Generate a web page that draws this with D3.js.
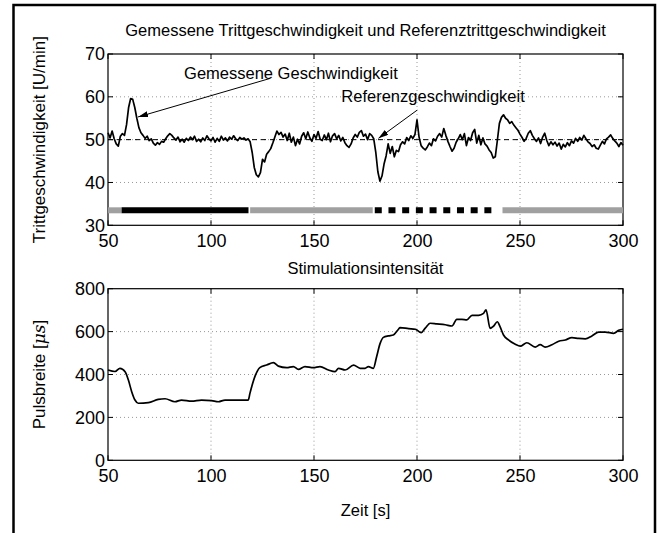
<!DOCTYPE html>
<html lang="de">
<head>
<meta charset="UTF-8">
<title>Trittgeschwindigkeit</title>
<script src="https://d3js.org/d3.v7.min.js"></script>
<style>
  body { margin: 0; background: #fff; }
  svg { display: block; font-family: "Liberation Sans", Arial, Helvetica, sans-serif; }
  .grid line { stroke: #999; stroke-dasharray: 1,3; stroke-width: 1; }
</style>
</head>
<body>
<svg id="chart" width="659" height="533"></svg>
<script>
// measured cadence, one sample per second from t = 50 s
const speedStart = 50;
const speedValues = [
  51.6, 50.4, 52.0, 50.2, 49.0, 48.5, 50.8, 51.4, 51.0, 53.5,
  57.5, 59.6, 59.4, 57.5, 55.0, 52.8, 51.6, 51.0, 50.3, 50.8,
  49.8, 50.2, 49.2, 48.7, 49.3, 48.9, 49.6, 49.4, 50.2, 50.9,
  51.4, 51.0, 50.4, 49.9, 50.6, 49.5, 50.1, 49.4, 50.3, 49.8,
  50.6, 50.0, 50.8, 49.6, 50.1, 49.5, 50.4, 49.8, 50.9, 50.2,
  49.7, 50.5, 49.4, 50.3, 49.6, 50.8, 49.9, 50.4, 49.7, 50.6,
  50.1, 50.9, 50.2, 49.8, 50.5, 50.1, 50.4, 49.9, 50.2, 49.5,
  47.0, 43.5, 41.8, 41.3, 42.3, 45.4, 44.8, 46.6, 47.2, 47.9,
  49.2, 50.6, 52.0, 51.2, 51.7, 50.6, 51.3, 49.8, 51.5, 49.4,
  50.6, 48.6, 50.1, 49.0, 50.8, 51.6, 50.2, 51.8, 50.4, 49.6,
  51.2, 50.3, 51.9, 50.1, 49.8, 51.1, 50.0, 51.5, 49.5, 50.9,
  51.4, 50.2, 51.0, 49.7, 50.5, 49.3, 48.6, 48.2, 49.0, 50.4,
  51.2, 50.6, 51.7, 52.1, 50.8, 51.3, 50.0, 51.4, 51.0, 50.2,
  47.0, 42.5, 40.3, 41.5, 44.3, 46.2, 49.0, 46.8, 48.4, 46.0,
  47.5, 47.2, 48.8, 49.5, 49.0, 50.5, 49.8, 50.9, 50.3, 51.2,
  54.6, 50.6, 48.6, 48.0, 47.6, 48.3, 49.2, 48.6, 50.2, 49.7,
  50.8, 51.4, 50.6, 52.6, 51.0, 49.6, 48.4, 47.3, 48.0, 49.4,
  50.2, 51.2, 50.0, 51.4, 48.6, 50.5, 49.8, 51.6, 52.4, 49.2,
  51.0, 48.8, 50.4, 49.0, 48.5, 47.6, 47.0, 45.7, 46.0, 49.8,
  53.8, 55.2, 55.8, 55.0, 54.6, 53.8, 54.2, 53.4, 52.8, 52.2,
  51.3, 50.5, 49.6, 50.3, 51.5, 52.1, 51.0, 50.2, 49.6, 50.4,
  49.1, 50.6, 51.5, 49.8, 48.6, 49.5, 48.8, 49.4, 48.5, 49.2,
  47.8, 48.9, 48.3, 49.3, 48.6, 49.7, 49.2, 50.3, 49.6, 50.5,
  49.9, 51.0, 50.2, 49.5, 49.1, 48.4, 48.8, 48.0, 47.8, 48.7,
  49.6, 49.0, 50.2, 50.6, 51.1, 50.3, 49.7, 49.2, 48.4, 49.3,
  48.7
];
const referenceSpeed = 50;

// stimulation phases shown as a bar
const phaseStart = [50, 56.6, 119, 179.5, 241.5];
const phaseEnd   = [56.6, 118.2, 178.5, 237.5, 300];
const phaseKind  = ["grau", "schwarz", "grau", "gestrichelt", "grau"];
const phaseLevel = 33.5;

// pulse width
const pulseTime = [50, 53.4, 55.8, 58.3, 59.9, 61.5, 63.1, 64.7, 69.6, 74.4, 77.7, 82.5, 85.7, 90.6,
  95.4, 100.3, 103.6, 106.8, 111.7, 118.1, 118.9, 121.3, 123.7, 127, 130.3, 132.7, 136.7,
  140, 142.4, 145.6, 149.7, 152.9, 157, 160.2, 161.9, 165.1, 169.2, 172.4, 174.8, 176.4,
  178.8, 180.4, 182.1, 183.7, 186.1, 188.5, 191, 191.8, 195.9, 199.2, 202, 204, 206.4,
  209.6, 213.7, 217, 219.3, 221.8, 224.2, 226.7, 229.9, 232.3, 233.5, 235.5, 237.1, 239,
  240.3, 242, 244.4, 247.7, 250.1, 253.3, 257.4, 259.8, 262.2, 265.5, 268.8, 272, 275.2,
  278.4, 281.7, 284.9, 288.2, 291.4, 295.5, 297.9, 300];
const pulseValue = [421, 414, 429, 413, 374, 320, 281, 266, 269, 284, 287, 273, 281, 276,
  281, 278, 273, 281, 281, 281, 312, 390, 432, 444, 455, 439, 432,
  437, 424, 437, 432, 437, 421, 413, 429, 421, 444, 429, 429, 437,
  429, 483, 545, 573, 580, 584, 611, 619, 614, 611, 595, 616, 639,
  636, 632, 626, 657, 657, 655, 676, 676, 685, 701, 615, 625, 646,
  623, 584, 561, 541, 532, 548, 528, 539, 528, 539, 555, 561, 572,
  568, 566, 580, 598, 598, 592, 606, 611];

const xTicks = [50, 100, 150, 200, 250, 300];
const speedTicks = [30, 40, 50, 60, 70];
const pulseTicks = [0, 200, 400, 600, 800];

const svg = d3.select("#chart");
const font = '"Liberation Sans", Arial, Helvetica, sans-serif';
const labelSize = 16.5;

// outer frame
svg.append("path")
  .attr("d", "M13.5,540 V5 H655 V540")
  .attr("fill", "none").attr("stroke", "#000").attr("stroke-width", 2.5);

const left = 108, right = 623;
const x = d3.scaleLinear().domain([50, 300]).range([left, right]);
const yTop = d3.scaleLinear().domain([30, 70]).range([225.3, 54]);
const yBot = d3.scaleLinear().domain([0, 800]).range([460.3, 288.7]);

function drawAxes(y, yTicks, labelY) {
  const top = y.range()[1], bottom = y.range()[0];
  const g = svg.append("g");
  const grid = g.append("g").attr("class", "grid");
  grid.selectAll(".gx").data(xTicks.slice(1, -1)).join("line")
    .attr("x1", d => x(d)).attr("x2", d => x(d)).attr("y1", top).attr("y2", bottom);
  grid.selectAll(".gy").data(yTicks.slice(1, -1)).join("line")
    .attr("y1", d => y(d)).attr("y2", d => y(d)).attr("x1", left).attr("x2", right);

  const tl = 5;
  const ax = d3.axisBottom(x).tickValues(xTicks).tickSize(0).tickPadding(9);
  g.append("g").attr("transform", `translate(0,${bottom})`).call(ax)
    .call(s => s.select(".domain").remove())
    .selectAll("text").attr("font-size", 18).attr("font-family", font).attr("fill", "#000");
  const ay = d3.axisLeft(y).tickValues(yTicks).tickSize(0).tickPadding(3);
  g.append("g").attr("transform", `translate(${left},0)`).call(ay)
    .call(s => s.select(".domain").remove())
    .selectAll("text").attr("font-size", 18).attr("font-family", font).attr("fill", "#000");

  // inward ticks on all sides
  const t = g.append("g").attr("stroke", "#000").attr("stroke-width", 1);
  xTicks.forEach(v => {
    t.append("line").attr("x1", x(v)).attr("x2", x(v)).attr("y1", bottom).attr("y2", bottom - tl);
    t.append("line").attr("x1", x(v)).attr("x2", x(v)).attr("y1", top).attr("y2", top + tl);
  });
  yTicks.forEach(v => {
    t.append("line").attr("y1", y(v)).attr("y2", y(v)).attr("x1", left).attr("x2", left + tl);
    t.append("line").attr("y1", y(v)).attr("y2", y(v)).attr("x1", right).attr("x2", right - tl);
  });
  g.append("rect").attr("x", left).attr("y", top).attr("width", right - left).attr("height", bottom - top)
    .attr("fill", "none").attr("stroke", "#000").attr("stroke-width", 1.2);

  g.append("text")
    .attr("transform", `translate(45,${(top + bottom) / 2}) rotate(-90)`)
    .attr("text-anchor", "middle").attr("font-size", 17).attr("fill", "#000")
    .html(labelY);
  return g;
}

// ---- upper plot ----
const upper = drawAxes(yTop, speedTicks, "Trittgeschwindigkeit [U/min]");

upper.append("line")
  .attr("x1", x(50)).attr("x2", x(300)).attr("y1", yTop(referenceSpeed)).attr("y2", yTop(referenceSpeed))
  .attr("stroke", "#000").attr("stroke-width", 1).attr("stroke-dasharray", "5,4");

const speedLine = d3.line()
  .x((d, i) => x(speedStart + i))
  .y(d => yTop(d));
upper.append("path").datum(speedValues)
  .attr("d", speedLine).attr("fill", "none").attr("stroke", "#000").attr("stroke-width", 1.7)
  .attr("stroke-linejoin", "round");

upper.selectAll(".phase").data(phaseStart).join("line")
  .attr("x1", d => x(d)).attr("x2", (d, i) => x(phaseEnd[i]))
  .attr("y1", yTop(phaseLevel)).attr("y2", yTop(phaseLevel))
  .attr("stroke", (d, i) => phaseKind[i] === "grau" ? "#a0a0a0" : "#000")
  .attr("stroke-width", 6)
  .attr("stroke-dasharray", (d, i) => phaseKind[i] === "gestrichelt" ? "7,6.7" : null);

// annotations
const defs = svg.append("defs");
defs.append("marker").attr("id", "head")
  .attr("viewBox", "0 -3 10 6").attr("refX", 10).attr("refY", 0)
  .attr("markerWidth", 10).attr("markerHeight", 6).attr("markerUnits", "userSpaceOnUse")
  .attr("orient", "auto")
  .append("path").attr("d", "M0,-3L10,0L0,3Z").attr("fill", "#000");

const notes = [
  { text: "Gemessene Geschwindigkeit", tx: 138.8, ty: 65.6, x1: 128.7, y1: 64.3, x2: 64.6, y2: 55.3 },
  { text: "Referenzgeschwindigkeit", tx: 207.8, ty: 60.1, x1: 200.1, y1: 56.9, x2: 181.3, y2: 50.3 }
];
notes.forEach(n => {
  upper.append("text").attr("x", x(n.tx)).attr("y", yTop(n.ty)).attr("dy", "0.35em")
    .attr("text-anchor", "middle").attr("font-size", labelSize).attr("fill", "#000").text(n.text);
  upper.append("line").attr("x1", x(n.x1)).attr("y1", yTop(n.y1)).attr("x2", x(n.x2)).attr("y2", yTop(n.y2))
    .attr("stroke", "#000").attr("stroke-width", 1).attr("marker-end", "url(#head)");
});

svg.append("text").attr("x", (left + right) / 2).attr("y", 36)
  .attr("text-anchor", "middle").attr("font-size", labelSize).text("Gemessene Trittgeschwindigkeit und Referenztrittgeschwindigkeit");
svg.append("text").attr("x", (left + right) / 2).attr("y", 274)
  .attr("text-anchor", "middle").attr("font-size", labelSize).text("Stimulationsintensität");

// ---- lower plot ----
const lower = drawAxes(yBot, pulseTicks,
  'Pulsbreite [<tspan font-family="DejaVu Serif" font-style="italic">μs</tspan>]');

const pulseLine = d3.line()
  .x((d, i) => x(pulseTime[i]))
  .y(d => yBot(d))
  .curve(d3.curveMonotoneX);
lower.append("path").datum(pulseValue)
  .attr("d", pulseLine).attr("fill", "none").attr("stroke", "#000").attr("stroke-width", 1.7);

svg.append("text").attr("x", (left + right) / 2).attr("y", 516)
  .attr("text-anchor", "middle").attr("font-size", labelSize).text("Zeit [s]");
</script>
</body>
</html>
